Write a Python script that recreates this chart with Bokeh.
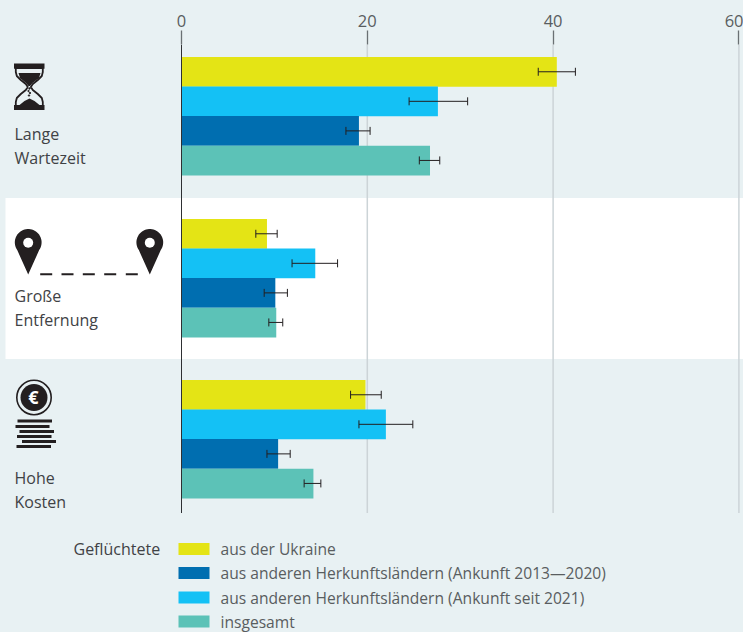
import numpy as np
from bokeh.core.properties import value
from bokeh.embed import file_html
from bokeh.models import (ColumnDataSource, FixedTicker, GlobalInlineStyleSheet,
                          Range1d, TeeHead, Whisker)
from bokeh.plotting import figure
from bokeh.resources import INLINE

# ---------- data ----------
groups = [["Lange", "Wartezeit"], ["Große", "Entfernung"], ["Hohe", "Kosten"]]
ukraine = [40.4, 9.2, 19.8]
ukraine_lo = [38.4, 8.0, 18.2]
ukraine_hi = [42.4, 10.3, 21.5]
since_2021 = [27.6, 14.4, 22.0]
since_2021_lo = [24.5, 11.9, 19.1]
since_2021_hi = [30.8, 16.8, 24.9]
arr_2013_2020 = [19.1, 10.1, 10.4]
arr_2013_2020_lo = [17.7, 8.9, 9.2]
arr_2013_2020_hi = [20.3, 11.4, 11.7]
total = [26.75, 10.2, 14.2]
total_lo = [25.6, 9.4, 13.2]
total_hi = [27.8, 10.9, 15.0]
x_ticks = [0, 20, 40, 60]
legend_title = "Geflüchtete"
legend_order = ["aus der Ukraine",
                "aus anderen Herkunftsländern (Ankunft 2013—2020)",
                "aus anderen Herkunftsländern (Ankunft seit 2021)",
                "insgesamt"]

# ---------- style / layout ----------
BG, WHITE = "#e8f1f3", "#ffffff"
YELLOW, LBLUE, DBLUE, TEAL = "#e4e415", "#14c1f5", "#006eb0", "#5cc2b7"
INK, TXT, TXT2 = "#231f20", "#3f4245", "#595d60"
GRID = "#ccd4d7"
FONT = value("Open Sans")
W, H, AXIS_H = 743, 632, 44
UNIT = 9.29
X0 = 181.0
GROUP_TOP = [57.0, 219.0, 380.0]
BAR_H = 29.55
PLOT_BOTTOM = 513
Y_SHIFT = 0.5

p = figure(width=W, height=H, output_backend="svg", toolbar_location=None,
           x_range=Range1d(-X0 / UNIT, (W - X0) / UNIT),
           y_range=Range1d(H + Y_SHIFT, AXIS_H + Y_SHIFT), x_axis_location="above",
           min_border=0, min_border_top=AXIS_H, min_border_left=0,
           min_border_right=0, min_border_bottom=0,
           background_fill_color=BG, border_fill_color=BG, outline_line_color=None)
p.stylesheets = [GlobalInlineStyleSheet(css=f"html,body{{margin:0;padding:0;background:{BG};overflow:hidden}}")]
p.yaxis.visible = False
p.grid.visible = False

ax = p.xaxis[0]
ax.ticker = FixedTicker(ticks=x_ticks)
ax.axis_line_color = None
ax.major_tick_out = 14
ax.major_tick_in = 0
ax.minor_tick_line_color = None
ax.major_tick_line_color = "#6a7073"
ax.major_tick_line_width = 1.3
ax.major_label_text_font = "Open Sans"
ax.major_label_text_font_size = "16.5px"
ax.major_label_text_color = TXT2
ax.major_label_standoff = 4

# white band
p.quad(left=-X0 / UNIT + 5 / UNIT, right=(W - X0) / UNIT, top=198, bottom=359,
       fill_color=WHITE, line_color=None)

# grid lines
p.segment(x0=x_ticks[1:], x1=x_ticks[1:], y0=AXIS_H + Y_SHIFT, y1=PLOT_BOTTOM,
          line_color=GRID, line_width=1.5)

# bars + whiskers
values = [ukraine, since_2021, arr_2013_2020, total]
los = [ukraine_lo, since_2021_lo, arr_2013_2020_lo, total_lo]
his = [ukraine_hi, since_2021_hi, arr_2013_2020_hi, total_hi]
colors = [YELLOW, LBLUE, DBLUE, TEAL]
whisk_y, whisk_lo, whisk_hi = [], [], []
for s, (vals, lo, hi, c) in enumerate(zip(values, los, his, colors)):
    top = np.array(GROUP_TOP) + s * BAR_H
    p.quad(left=0, right=vals, top=top, bottom=top + BAR_H + 0.2,
           fill_color=c, line_color=None)
    whisk_y += list(top + BAR_H / 2)
    whisk_lo += lo
    whisk_hi += hi

# zero line
p.segment(x0=[0], x1=[0], y0=[AXIS_H + Y_SHIFT], y1=[PLOT_BOTTOM], line_color="#2e3033", line_width=1)

src = ColumnDataSource(dict(y=whisk_y, lo=whisk_lo, hi=whisk_hi))
p.add_layout(Whisker(source=src, base="y", lower="lo", upper="hi", dimension="width",
                     level="overlay", line_color=INK, line_width=1,
                     lower_head=TeeHead(size=8, line_color=INK, line_width=1),
                     upper_head=TeeHead(size=8, line_color=INK, line_width=1)))


def px(x):
    return (np.asarray(x, dtype=float) - X0) / UNIT


# group labels
for yy, lines in zip([133.5, 296, 477.5], groups):
    p.text(x=px([14, 14]), y=[yy, yy + 24], text=lines, text_font=FONT,
           text_font_size="16px", text_color=TXT, text_baseline="middle", text_align="left")

# hourglass icon
yy = np.array([68, 72, 76, 80, 84, 87, 90, 94, 98, 102, 106], dtype=float)
half = np.array([13.5, 13.5, 12.5, 8.5, 3.5, 1.5, 3.5, 8.5, 12.5, 13.5, 13.5], dtype=float)
cx = 28.8
p.patch(px(np.r_[cx - half, (cx + half)[::-1]]), np.r_[yy, yy[::-1]],
        fill_color=None, line_color=INK, line_width=1.8)
p.quad(left=px([13.5, 13.5]), right=px([44, 44]), top=[63.5, 105], bottom=[68.7, 110],
       fill_color=INK, line_color=None)
p.patch(px([18, 40, 38.5, 32, 29.5, 28, 25.5, 19.5]), [73, 73, 78, 83, 86, 86, 83, 78],
        fill_color=INK, line_color=None)
p.patch(px([19, 24, 29, 34, 39]), [105, 101, 98.5, 101, 105], fill_color=INK, line_color=None)
p.scatter(px([29, 28, 29.5, 28.5]), [88.5, 91, 93, 95.5], size=1.4, color=INK)

# pins
t = np.linspace(np.radians(-35), np.radians(215), 40)
for c in [27.7, 149.3]:
    xs = np.r_[c + 13.4 * np.cos(t), c]
    ys = np.r_[242.4 - 13.4 * np.sin(t), 274.5]
    p.patch(px(xs), ys, fill_color=INK, line_color=None)
    p.circle(x=px([c]), y=[242.7], radius=5 / UNIT, fill_color=WHITE, line_color=None)
p.segment(x0=px([39.7, 61, 82.3, 103.7, 125.3]), x1=px([51.7, 73, 94.3, 115.7, 137.3]),
          y0=[274.3] * 5, y1=[274.3] * 5, line_color=INK, line_width=2)

# coin and stack
p.circle(x=px([33.5]), y=[397.5], radius=17.2 / UNIT, fill_color=None, line_color=INK, line_width=1.6)
p.circle(x=px([33.5]), y=[397.5], radius=13.5 / UNIT, fill_color=INK, line_color=None)
p.text(x=px([33]), y=[397], text=["€"], text_font=value("Open Sans"), text_font_style="bold",
       text_font_size="18px", text_color=WHITE, text_align="center", text_baseline="middle")
p.segment(x0=px([17, 15, 19, 16.5, 21.5, 16]), x1=px([51.5, 49, 53.5, 51, 55.5, 50.5]),
          y0=[421, 426.5, 431.5, 436.5, 441.5, 446.5], y1=[421, 426.5, 431.5, 436.5, 441.5, 446.5],
          line_color=INK, line_width=3)

# legend
p.text(x=px([73]), y=[549], text=[legend_title], text_font=FONT, text_font_size="16px",
       text_color=TXT, text_baseline="middle")
legend_colors = [YELLOW, DBLUE, LBLUE, TEAL]
ly = [549, 573, 597.5, 621.5]
for yy, name, c in zip(ly, legend_order, legend_colors):
    p.quad(left=px([178]), right=px([209]), top=[yy - 6], bottom=[yy + 6], fill_color=c, line_color=None)
    p.text(x=px([220]), y=[yy], text=[name], text_font=FONT, text_font_size="15.6px",
           text_color=TXT2, text_baseline="middle")

open("out.html", "w").write(file_html(p, INLINE))
